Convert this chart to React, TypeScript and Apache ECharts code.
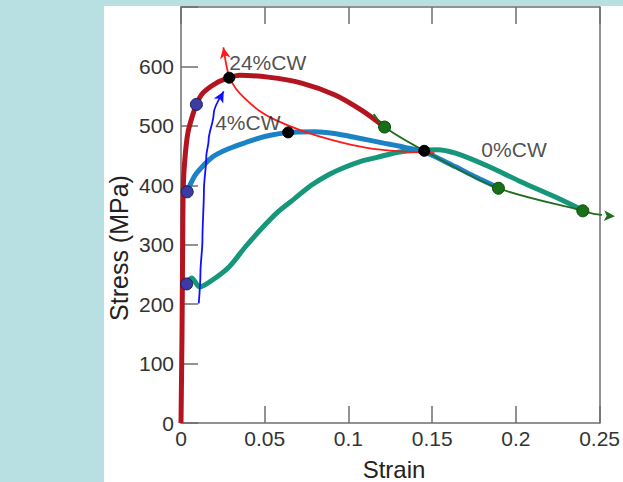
import React, { useEffect, useRef } from "react";
import * as echarts from "echarts";

// Strain (x) / Stress MPa (y)
const red24CW: [number, number][] = [
  [0, 0], [0.0006, 150], [0.001, 300], [0.0014, 400], [0.0025, 450], [0.0041, 488],
  [0.0063, 512], [0.0092, 536], [0.013, 555], [0.021, 572], [0.0288, 581],
  [0.035, 585], [0.052, 582], [0.072, 572], [0.092, 552], [0.108, 526], [0.1216, 498],
];
const blue4CW: [number, number][] = [
  [0.0037, 389], [0.006, 404], [0.0092, 420], [0.019, 448], [0.0288, 462], [0.0386, 472],
  [0.05, 482], [0.064, 489], [0.08, 490], [0.0916, 487], [0.105, 480],
  [0.121, 471], [0.135, 463], [0.1455, 456], [0.164, 431], [0.176, 414], [0.188, 398],
];
const green0CW: [number, number][] = [
  [0.0034, 234], [0.0063, 244], [0.0112, 229], [0.019, 241], [0.0288, 263], [0.0386, 297],
  [0.0484, 328], [0.0582, 356], [0.068, 378], [0.0778, 400], [0.0876, 417], [0.0975, 430],
  [0.107, 440], [0.117, 447], [0.1306, 456], [0.142, 459], [0.153, 460], [0.164, 454],
  [0.1835, 432], [0.203, 406], [0.223, 381], [0.24, 358],
];
const neckingLocus: [number, number][] = [
  [0.1151, 520], [0.1216, 498], [0.1453, 458], [0.1896, 395], [0.24, 357],
  [0.2465, 352], [0.2592, 348],
];
const redArrowPath: [number, number][] = [
  [0.1514, 454], [0.1308, 457], [0.111, 463], [0.0916, 475], [0.072, 492],
  [0.0563, 510], [0.0465, 526], [0.0386, 545], [0.0327, 563], [0.0288, 583],
  [0.0269, 605], [0.0253, 632],
];
const blueArrowPath: [number, number][] = [
  [0.0106, 201], [0.0116, 252], [0.0128, 308], [0.0137, 392], [0.0151, 448],
  [0.0165, 476], [0.0195, 520], [0.0255, 558],
];
const blueDots: [number, number][] = [[0.0092, 536], [0.0037, 389], [0.0034, 234]];
const blackDots: [number, number][] = [[0.0288, 581], [0.064, 489], [0.1453, 458]];
const greenDots: [number, number][] = [[0.1216, 498], [0.1896, 395], [0.24, 357]];
const curveLabels = [
  { name: "24%CW", value: [0.0288, 607] },
  { name: "4%CW", value: [0.0204, 506] },
  { name: "0%CW", value: [0.1794, 460] },
];
const strainTickLabels = ["0", "0.05", "0.1", "0.15", "0.2", "0.25"];
const stressTickLabels = ["0", "100", "200", "300", "400", "500", "600", ""];

const FONT = "Liberation Sans, Arial, Helvetica, sans-serif";
const AXIS_COLOR = "#6e6e6e";

function withArrow(pts: [number, number][], rot: number, color: string) {
  return pts.map((p, i) =>
    i === pts.length - 1
      ? { value: p, symbol: "arrow", symbolSize: [8, 11], symbolRotate: rot, itemStyle: { color, opacity: 1 } }
      : { value: p, symbol: "none" }
  );
}

export default function App() {
  const ref = useRef<HTMLDivElement>(null);
  useEffect(() => {
    if (!ref.current) return;
    const chart = echarts.init(ref.current, undefined, { renderer: "svg" });
    const thickLine = (name: string, data: [number, number][], color: string, width: number, z: number) => ({
      type: "line", name, data, smooth: 0.3, showSymbol: false, symbol: "none",
      lineStyle: { color, width }, z, clip: false,
    });
    const thinArrow = (data: [number, number][], rot: number, color: string, z: number, mono?: string) => ({
      type: "line", data: withArrow(data, rot, color), smooth: 0.3, smoothMonotone: mono,
      showSymbol: true, symbol: "none", lineStyle: { color, width: 1.8 }, z, clip: false,
    });
    const dots = (data: [number, number][], color: string, border: string, size: number) => ({
      type: "scatter", data, symbolSize: size, z: 20,
      itemStyle: { color, borderColor: border, borderWidth: 1, opacity: 1 },
    });
    const axisLine = { show: true, onZero: false, lineStyle: { color: AXIS_COLOR, width: 1.5 } };
    const insideTick = { show: true, inside: true, length: 17, lineStyle: { color: AXIS_COLOR, width: 1.5 } };
    chart.setOption({
      animation: false,
      backgroundColor: "transparent",
      grid: { left: 181, right: 17, top: 7, bottom: 59 },
      xAxis: [
        {
          type: "value", min: 0, max: 0.25, interval: 0.05, position: "bottom",
          axisLine, axisTick: insideTick,
          axisLabel: {
            color: "#333", fontSize: 21, fontFamily: FONT, margin: 5,
            formatter: (v: number) => strainTickLabels[Math.round(v / 0.05)] ?? "",
          },
          splitLine: { show: false },
        },
        {
          type: "value", min: 0, max: 0.25, interval: 0.05, position: "top",
          axisLine, axisTick: insideTick, axisLabel: { show: false }, splitLine: { show: false },
        },
      ],
      yAxis: [
        {
          type: "value", min: 0, max: 700, interval: 100, position: "left",
          axisLine, axisTick: insideTick,
          axisLabel: {
            color: "#333", fontSize: 21, fontFamily: FONT, margin: 7,
            formatter: (v: number) => stressTickLabels[Math.round(v / 100)] ?? "",
          },
          splitLine: { show: false },
        },
        {
          type: "value", min: 0, max: 700, interval: 100, position: "right",
          axisLine, axisTick: { show: false }, axisLabel: { show: false }, splitLine: { show: false },
        },
      ],
      graphic: [
        {
          type: "text", x: 119, y: 248, rotation: Math.PI / 2,
          style: { text: "Stress (MPa)", fill: "#222", font: `25px ${FONT}`, align: "center", verticalAlign: "middle" },
        },
        {
          type: "text", x: 394, y: 469,
          style: { text: "Strain", fill: "#222", font: `24px ${FONT}`, align: "center", verticalAlign: "middle" },
        },
      ],
      series: [
        thickLine("0%CW", green0CW, "#16967a", 5, 3),
        thickLine("4%CW", blue4CW, "#1c82c6", 5, 4),
        thickLine("24%CW", red24CW, "#b3141f", 5, 5),
        thinArrow(blueArrowPath, -28, "#1010ff", 8, "y"),
        thinArrow(redArrowPath, 10, "#ff1a1a", 9),
        thinArrow(neckingLocus, -93, "#1f6e1f", 10),
        dots(blueDots, "#3b3ba6", "#1c1c55", 12),
        dots(blackDots, "#000000", "#000000", 11),
        dots(greenDots, "#177017", "#0c4a0c", 12),
        {
          type: "scatter", data: curveLabels, symbolSize: 0, z: 15,
          label: {
            show: true, position: "right", distance: 0, formatter: (p: any) => p.name,
            color: "#222", fontSize: 21, fontFamily: FONT,
          },
        },
      ],
    });
    return () => chart.dispose();
  }, []);
  return (
    <div style={{ position: "fixed", left: 0, top: 0, width: 623, height: 482, background: "#b8dfe1" }}>
      <div style={{ position: "absolute", left: 104, top: 6, width: 519, height: 476, background: "#ffffff" }} />
      <div ref={ref} style={{ position: "absolute", left: 0, top: 0, width: 623, height: 482 }} />
    </div>
  );
}
